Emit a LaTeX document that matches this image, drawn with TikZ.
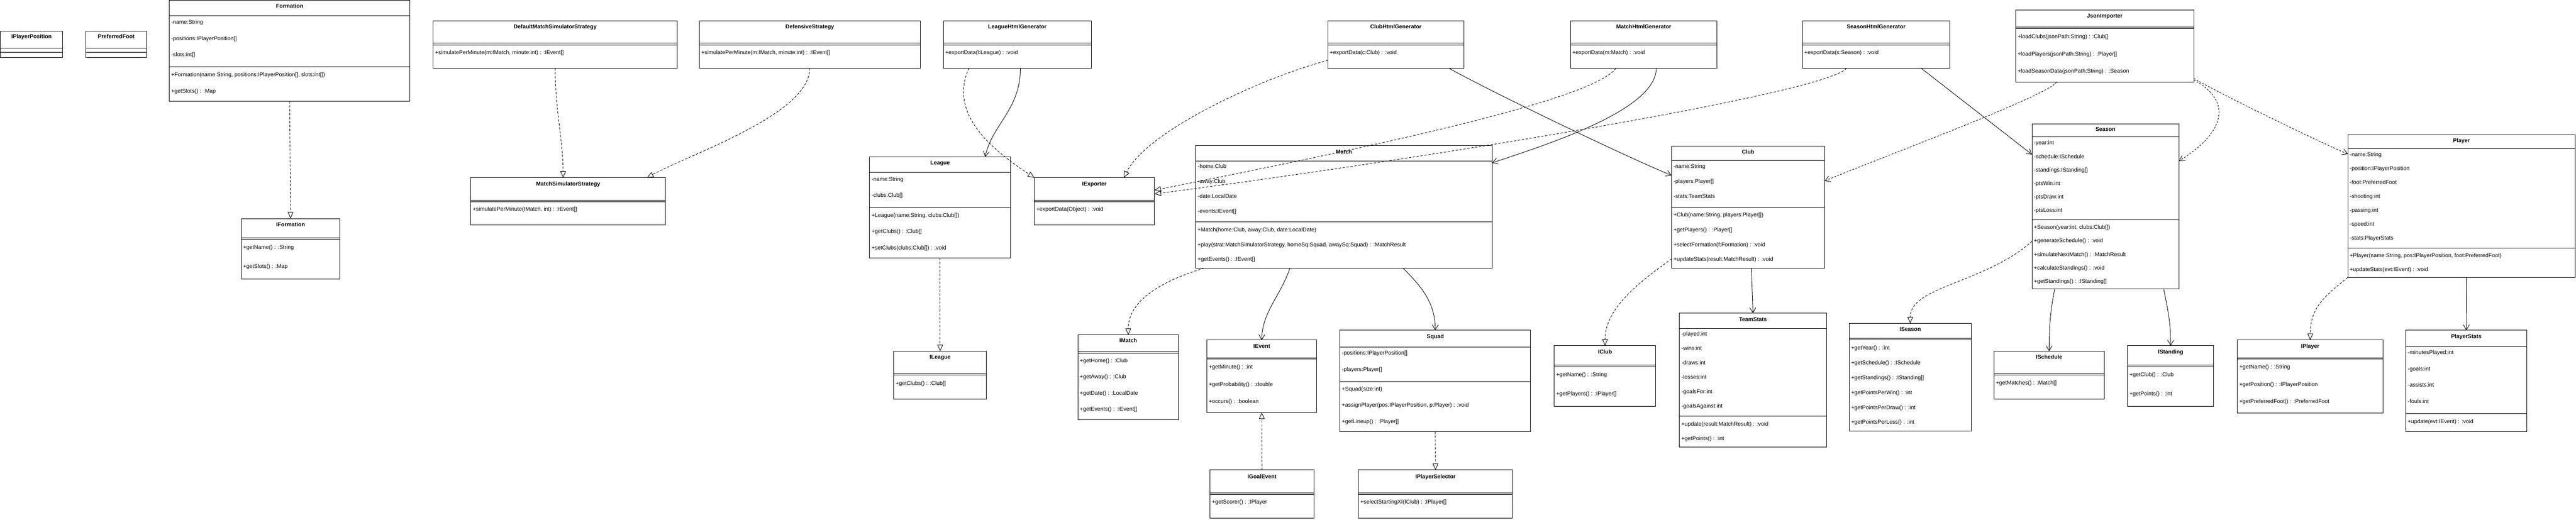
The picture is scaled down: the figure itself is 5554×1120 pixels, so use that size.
\documentclass[tikz,border=0pt]{standalone}
\usepackage{fontspec}
\setmainfont{Liberation Sans}
\usetikzlibrary{arrows.meta}
\tikzset{
  cls/.style={draw, line width=1.1pt, inner sep=0pt, outer sep=0pt, rectangle},
  ttl/.style={font=\fontsize{12}{14}\selectfont\bfseries, inner sep=0pt, text height=8.6pt, text depth=2.4pt},
  rowt/.style={font=\fontsize{12}{14}\selectfont, anchor=west, inner sep=0pt, text height=8.6pt, text depth=2.4pt},
  sepline/.style={line width=1.1pt},
  conn/.style={line width=1pt},
  real/.style={conn, dash pattern=on 5pt off 3.5pt, -{Triangle[open, length=14pt, width=12pt]}},
  assoc/.style={conn, -{Straight Barb[length=11pt, width=13pt]}},
  dep/.style={conn, dash pattern=on 4pt off 3pt, -{Straight Barb[length=11pt, width=13pt]}},
}
\newcommand{\umlbox}[7]{%
  \node[cls, minimum width={(#4)-(#2)}, minimum height={(#5)-(#3)}] (#1) at ({((#2)+(#4))/2},{((#3)+(#5))/2}) {};
  \node[ttl] (#1-title) at ({((#2)+(#4))/2},#7) {#6};}
\newcommand{\umlsep}[3]{\draw[sepline] (#1,#3) -- (#2,#3);}
\newcommand{\umlrow}[4]{\node[rowt] (#1) at (#2,#3) {#4};}
\begin{document}
\begin{tikzpicture}[x=1pt,y=-1pt]
\useasboundingbox (0,0) rectangle (5554,1120);

% ---------- top row ----------
\umlbox{ipp}{1}{67}{135}{124}{IPlayerPosition}{80}
\umlsep{1}{135}{104}\umlsep{1}{135}{113}

\umlbox{pf}{185}{67}{316}{124}{PreferredFoot}{80}
\umlsep{185}{316}{104}\umlsep{185}{316}{113}

\umlbox{formation}{365}{1}{884}{218}{Formation}{14}
\umlsep{365}{884}{34}
\umlrow{formation-a1}{369}{49}{-name:String}
\umlrow{formation-a2}{369}{84}{-positions:IPlayerPosition[]}
\umlrow{formation-a3}{369}{119}{-slots:int[]}
\umlsep{365}{884}{144}
\umlrow{formation-m1}{369}{162}{+Formation(name:String, positions:IPlayerPosition[], slots:int[])}
\umlrow{formation-m2}{369}{197}{+getSlots() : :Map}

\umlbox{iformation}{520}{471}{733}{602}{IFormation}{485}
\umlsep{520}{733}{513}\umlsep{520}{733}{516}
\umlrow{iformation-m1}{524}{534}{+getName() : :String}
\umlrow{iformation-m2}{524}{575}{+getSlots() : :Map}

\umlbox{dmss}{934}{45}{1460}{147}{DefaultMatchSimulatorStrategy}{59}
\umlsep{934}{1460}{93}\umlsep{934}{1460}{97}
\umlrow{dmss-m1}{938}{114}{+simulatePerMinute(m:IMatch, minute:int) : :IEvent[]}

\umlbox{defs}{1508}{45}{1984}{147}{DefensiveStrategy}{59}
\umlsep{1508}{1984}{93}\umlsep{1508}{1984}{97}
\umlrow{defs-m1}{1512}{114}{+simulatePerMinute(m:IMatch, minute:int) : :IEvent[]}

\umlbox{lhg}{2034}{45}{2353}{147}{LeagueHtmlGenerator}{59}
\umlsep{2034}{2353}{93}\umlsep{2034}{2353}{97}
\umlrow{lhg-m1}{2038}{114}{+exportData(l:League) : :void}

\umlbox{chg}{2863}{45}{3156}{147}{ClubHtmlGenerator}{59}
\umlsep{2863}{3156}{93}\umlsep{2863}{3156}{97}
\umlrow{chg-m1}{2867}{114}{+exportData(c:Club) : :void}

\umlbox{mhg}{3386}{45}{3702}{147}{MatchHtmlGenerator}{59}
\umlsep{3386}{3702}{93}\umlsep{3386}{3702}{97}
\umlrow{mhg-m1}{3390}{114}{+exportData(m:Match) : :void}

\umlbox{shg}{3886}{45}{4204}{147}{SeasonHtmlGenerator}{59}
\umlsep{3886}{4204}{93}\umlsep{3886}{4204}{97}
\umlrow{shg-m1}{3890}{114}{+exportData(s:Season) : :void}

\umlbox{json}{4346}{22}{4730}{177}{JsonImporter}{35}
\umlsep{4346}{4730}{58}\umlsep{4346}{4730}{62}
\umlrow{json-m1}{4350}{80}{+loadClubs(jsonPath:String) : :Club[]}
\umlrow{json-m2}{4350}{117}{+loadPlayers(jsonPath:String) : :Player[]}
\umlrow{json-m3}{4350}{154}{+loadSeasonData(jsonPath:String) : :Season}

% ---------- middle row ----------
\umlbox{mss}{1015}{383}{1435}{485}{MatchSimulatorStrategy}{397}
\umlsep{1015}{1435}{431}\umlsep{1015}{1435}{435}
\umlrow{mss-m1}{1019}{452}{+simulatePerMinute(IMatch, int) : :IEvent[]}

\umlbox{league}{1875}{338}{2179}{556}{League}{352}
\umlsep{1875}{2179}{372}
\umlrow{league-a1}{1879}{387}{-name:String}
\umlrow{league-a2}{1879}{422}{-clubs:Club[]}
\umlsep{1875}{2179}{447}
\umlrow{league-m1}{1879}{465}{+League(name:String, clubs:Club[])}
\umlrow{league-m2}{1879}{500}{+getClubs() : :Club[]}
\umlrow{league-m3}{1879}{535}{+setClubs(clubs:Club[]) : :void}

\umlbox{iexp}{2230}{383}{2489}{485}{IExporter}{397}
\umlsep{2230}{2489}{431}\umlsep{2230}{2489}{435}
\umlrow{iexp-m1}{2234}{452}{+exportData(Object) : :void}

\umlbox{match}{2578}{314}{3217}{578}{Match}{328}
\umlsep{2578}{3217}{347}
\umlrow{match-a1}{2582}{360}{-home:Club}
\umlrow{match-a2}{2582}{392}{-away:Club}
\umlrow{match-a3}{2582}{424}{-date:LocalDate}
\umlrow{match-a4}{2582}{456}{-events:IEvent[]}
\umlsep{2578}{3217}{478}
\umlrow{match-m1}{2582}{496}{+Match(home:Club, away:Club, date:LocalDate)}
\umlrow{match-m2}{2582}{528}{+play(strat:MatchSimulatorStrategy, homeSq:Squad, awaySq:Squad) : :MatchResult}
\umlrow{match-m3}{2582}{560}{+getEvents() : :IEvent[]}

\umlbox{club}{3604}{315}{3934}{578}{Club}{329}
\umlsep{3604}{3934}{346}
\umlrow{club-a1}{3608}{360}{-name:String}
\umlrow{club-a2}{3608}{392}{-players:Player[]}
\umlrow{club-a3}{3608}{424}{-stats:TeamStats}
\umlsep{3604}{3934}{447}
\umlrow{club-m1}{3608}{464}{+Club(name:String, players:Player[])}
\umlrow{club-m2}{3608}{496}{+getPlayers() : :Player[]}
\umlrow{club-m3}{3608}{528}{+selectFormation(f:Formation) : :void}
\umlrow{club-m4}{3608}{560}{+updateStats(result:MatchResult) : :void}

\umlbox{season}{4381}{267}{4698}{623}{Season}{280}
\umlsep{4381}{4698}{295}
\umlrow{season-a1}{4385}{309}{-year:int}
\umlrow{season-a2}{4385}{338}{-schedule:ISchedule}
\umlrow{season-a3}{4385}{367}{-standings:IStanding[]}
\umlrow{season-a4}{4385}{396}{-ptsWin:int}
\umlrow{season-a5}{4385}{425}{-ptsDraw:int}
\umlrow{season-a6}{4385}{454}{-ptsLoss:int}
\umlsep{4381}{4698}{474}
\umlrow{season-m1}{4385}{491}{+Season(year:int, clubs:Club[])}
\umlrow{season-m2}{4385}{520}{+generateSchedule() : :void}
\umlrow{season-m3}{4385}{549}{+simulateNextMatch() : :MatchResult}
\umlrow{season-m4}{4385}{578}{+calculateStandings() : :void}
\umlrow{season-m5}{4385}{607}{+getStandings() : :IStanding[]}

\umlbox{player}{5062}{290}{5552}{598}{Player}{304}
\umlsep{5062}{5552}{321}
\umlrow{player-a1}{5066}{334}{-name:String}
\umlrow{player-a2}{5066}{364}{-position:IPlayerPosition}
\umlrow{player-a3}{5066}{394}{-foot:PreferredFoot}
\umlrow{player-a4}{5066}{424}{-shooting:int}
\umlrow{player-a5}{5066}{454}{-passing:int}
\umlrow{player-a6}{5066}{484}{-speed:int}
\umlrow{player-a7}{5066}{514}{-stats:PlayerStats}
\umlsep{5062}{5552}{535}
\umlrow{player-m1}{5066}{552}{+Player(name:String, pos:IPlayerPosition, foot:PreferredFoot)}
\umlrow{player-m2}{5066}{582}{+updateStats(evt:IEvent) : :void}

% ---------- bottom row ----------
\umlbox{ileague}{1927}{757}{2127}{860}{ILeague}{771}
\umlsep{1927}{2127}{805}\umlsep{1927}{2127}{808}
\umlrow{ileague-m1}{1931}{827}{+getClubs() : :Club[]}

\umlbox{imatch}{2324}{722}{2541}{905}{IMatch}{735}
\umlsep{2324}{2541}{758}\umlsep{2324}{2541}{761}
\umlrow{imatch-m1}{2328}{778}{+getHome() : :Club}
\umlrow{imatch-m2}{2328}{813}{+getAway() : :Club}
\umlrow{imatch-m3}{2328}{848}{+getDate() : :LocalDate}
\umlrow{imatch-m4}{2328}{883}{+getEvents() : :IEvent[]}

\umlbox{ievent}{2602}{733}{2839}{889}{IEvent}{747}
\umlsep{2602}{2839}{771}\umlsep{2602}{2839}{774}
\umlrow{ievent-m1}{2606}{792}{+getMinute() : :int}
\umlrow{ievent-m2}{2606}{829}{+getProbability() : :double}
\umlrow{ievent-m3}{2606}{866}{+occurs() : :boolean}

\umlbox{squad}{2889}{712}{3300}{930}{Squad}{726}
\umlsep{2889}{3300}{748}
\umlrow{squad-a1}{2893}{762}{-positions:IPlayerPosition[]}
\umlrow{squad-a2}{2893}{797}{-players:Player[]}
\umlsep{2889}{3300}{822}
\umlrow{squad-m1}{2893}{839}{+Squad(size:int)}
\umlrow{squad-m2}{2893}{874}{+assignPlayer(pos:IPlayerPosition, p:Player) : :void}
\umlrow{squad-m3}{2893}{909}{+getLineup() : :Player[]}

\umlbox{igoal}{2609}{1013}{2833}{1117}{IGoalEvent}{1028}
\umlsep{2609}{2833}{1063}\umlsep{2609}{2833}{1066}
\umlrow{igoal-m1}{2613}{1083}{+getScorer() : :IPlayer}

\umlbox{ips}{2929}{1013}{3261}{1117}{IPlayerSelector}{1028}
\umlsep{2929}{3261}{1063}\umlsep{2929}{3261}{1066}
\umlrow{ips-m1}{2933}{1083}{+selectStartingXI(IClub) : :IPlayer[]}

\umlbox{iclub}{3351}{745}{3570}{876}{IClub}{759}
\umlsep{3351}{3570}{787}\umlsep{3351}{3570}{790}
\umlrow{iclub-m1}{3355}{808}{+getName() : :String}
\umlrow{iclub-m2}{3355}{849}{+getPlayers() : :IPlayer[]}

\umlbox{teamstats}{3621}{675}{3938}{964}{TeamStats}{690}
\umlsep{3621}{3938}{708}
\umlrow{teamstats-a1}{3625}{721}{-played:int}
\umlrow{teamstats-a2}{3625}{752}{-wins:int}
\umlrow{teamstats-a3}{3625}{783}{-draws:int}
\umlrow{teamstats-a4}{3625}{814}{-losses:int}
\umlrow{teamstats-a5}{3625}{845}{-goalsFor:int}
\umlrow{teamstats-a6}{3625}{876}{-goalsAgainst:int}
\umlsep{3621}{3938}{897}
\umlrow{teamstats-m1}{3625}{915}{+update(result:MatchResult) : :void}
\umlrow{teamstats-m2}{3625}{946}{+getPoints() : :int}

\umlbox{iseason}{3987}{697}{4250}{929}{ISeason}{711}
\umlsep{3987}{4250}{729}\umlsep{3987}{4250}{732}
\umlrow{iseason-m1}{3991}{751}{+getYear() : :int}
\umlrow{iseason-m2}{3991}{783}{+getSchedule() : :ISchedule}
\umlrow{iseason-m3}{3991}{815}{+getStandings() : :IStanding[]}
\umlrow{iseason-m4}{3991}{847}{+getPointsPerWin() : :int}
\umlrow{iseason-m5}{3991}{879}{+getPointsPerDraw() : :int}
\umlrow{iseason-m6}{3991}{911}{+getPointsPerLoss() : :int}

\umlbox{ischedule}{4299}{757}{4537}{860}{ISchedule}{771}
\umlsep{4299}{4537}{805}\umlsep{4299}{4537}{808}
\umlrow{ischedule-m1}{4303}{826}{+getMatches() : :Match[]}

\umlbox{istanding}{4587}{745}{4773}{876}{IStanding}{759}
\umlsep{4587}{4773}{787}\umlsep{4587}{4773}{790}
\umlrow{istanding-m1}{4591}{808}{+getClub() : :Club}
\umlrow{istanding-m2}{4591}{849}{+getPoints() : :int}

\umlbox{iplayer}{4824}{733}{5138}{890}{IPlayer}{747}
\umlsep{4824}{5138}{771}\umlsep{4824}{5138}{774}
\umlrow{iplayer-m1}{4828}{792}{+getName() : :String}
\umlrow{iplayer-m2}{4828}{829}{+getPosition() : :IPlayerPosition}
\umlrow{iplayer-m3}{4828}{866}{+getPreferredFoot() : :PreferredFoot}

\umlbox{pstats}{5187}{712}{5448}{930}{PlayerStats}{726}
\umlsep{5187}{5448}{747}
\umlrow{pstats-a1}{5191}{761}{-minutesPlayed:int}
\umlrow{pstats-a2}{5191}{796}{-goals:int}
\umlrow{pstats-a3}{5191}{831}{-assists:int}
\umlrow{pstats-a4}{5191}{866}{-fouls:int}
\umlsep{5187}{5448}{891}
\umlrow{pstats-m1}{5191}{909}{+update(evt:IEvent) : :void}

% ---------- connectors ----------
\draw[real] (formation.south) -- (iformation.north);
\draw[real] (dmss.south) .. controls +(0,90) and +(0,-80) .. ([xshift=-11]mss.north);
\draw[real] (defs.south) .. controls +(0,100) and +(90,-50) .. ([xshift=170]mss.north);
\draw[real] ([xshift=-104.5]lhg.south) .. controls +(-45,100) and +(-90,-60) .. (iexp.north west);
\draw[assoc] ([xshift=6.5]lhg.south) .. controls +(0,90) and +(15,-70) .. ([xshift=97]league.north);
\draw[real] ([yshift=-34]chg.west) .. controls +(-150,40) and +(50,-100) .. ([xshift=63.5]iexp.north);
\draw[assoc] ([xshift=114.5]chg.south) .. controls +(70,40) and +(-110,-45) .. ([yshift=68.5]club.west);
\draw[real] ([xshift=-60]mhg.south) .. controls +(-50,70) and +(450,-90) .. ([yshift=24]iexp.east);
\draw[real] ([xshift=-64]shg.south) .. controls +(-41,53) and +(600,-78) .. ([yshift=16]iexp.east);
\draw[assoc] ([xshift=27]mhg.south) .. controls +(0,90) and +(120,-40) .. ([yshift=95]match.east);
\draw[assoc] ([xshift=97]shg.south) -- ([yshift=112]season.west);
\draw[dep] ([xshift=-104]json.south) .. controls +(-20,30) and +(120,-50) .. ([yshift=56.5]club.east);
\draw[dep] ([yshift=8]json.south east) .. controls +(50,30) and +(-70,-30) .. ([yshift=112]player.west);
\draw[dep] ([yshift=5]json.south east) .. controls +(90,50) and +(92,-57) .. ([yshift=98]season.east);
\draw[real] ([xshift=-301.5]match.south) .. controls +(-100,30) and +(0,-70) .. (imatch.north);
\draw[assoc] ([xshift=-116.5]match.south) .. controls +(-20,60) and +(0,-60) .. (ievent.north);
\draw[assoc] ([xshift=127.5]match.south) .. controls +(40,40) and +(0,-60) .. (squad.north);
\draw[assoc] ([xshift=7]club.south) -- (teamstats.north);
\draw[real] ([yshift=-111.5]club.west) .. controls +(-70,50) and +(0,-80) .. (iclub.north);
\draw[real] ([yshift=-75]season.west) .. controls +(-100,90) and +(0,-80) .. (iseason.north);
\draw[assoc] ([xshift=-109.5]season.south) .. controls +(-10,50) and +(0,-50) .. (ischedule.north);
\draw[assoc] ([xshift=125.5]season.south) .. controls +(10,50) and +(0,-50) .. (istanding.north);
\draw[real] (player.south west) .. controls +(-50,40) and +(0,-70) .. (iplayer.north);
\draw[assoc] ([xshift=11]player.south) -- (pstats.north);
\draw[real] (league.south) -- (ileague.north);
\draw[real] (igoal.north) -- (ievent.south);
\draw[real] (squad.south) -- (ips.north);
\end{tikzpicture}
\end{document}
